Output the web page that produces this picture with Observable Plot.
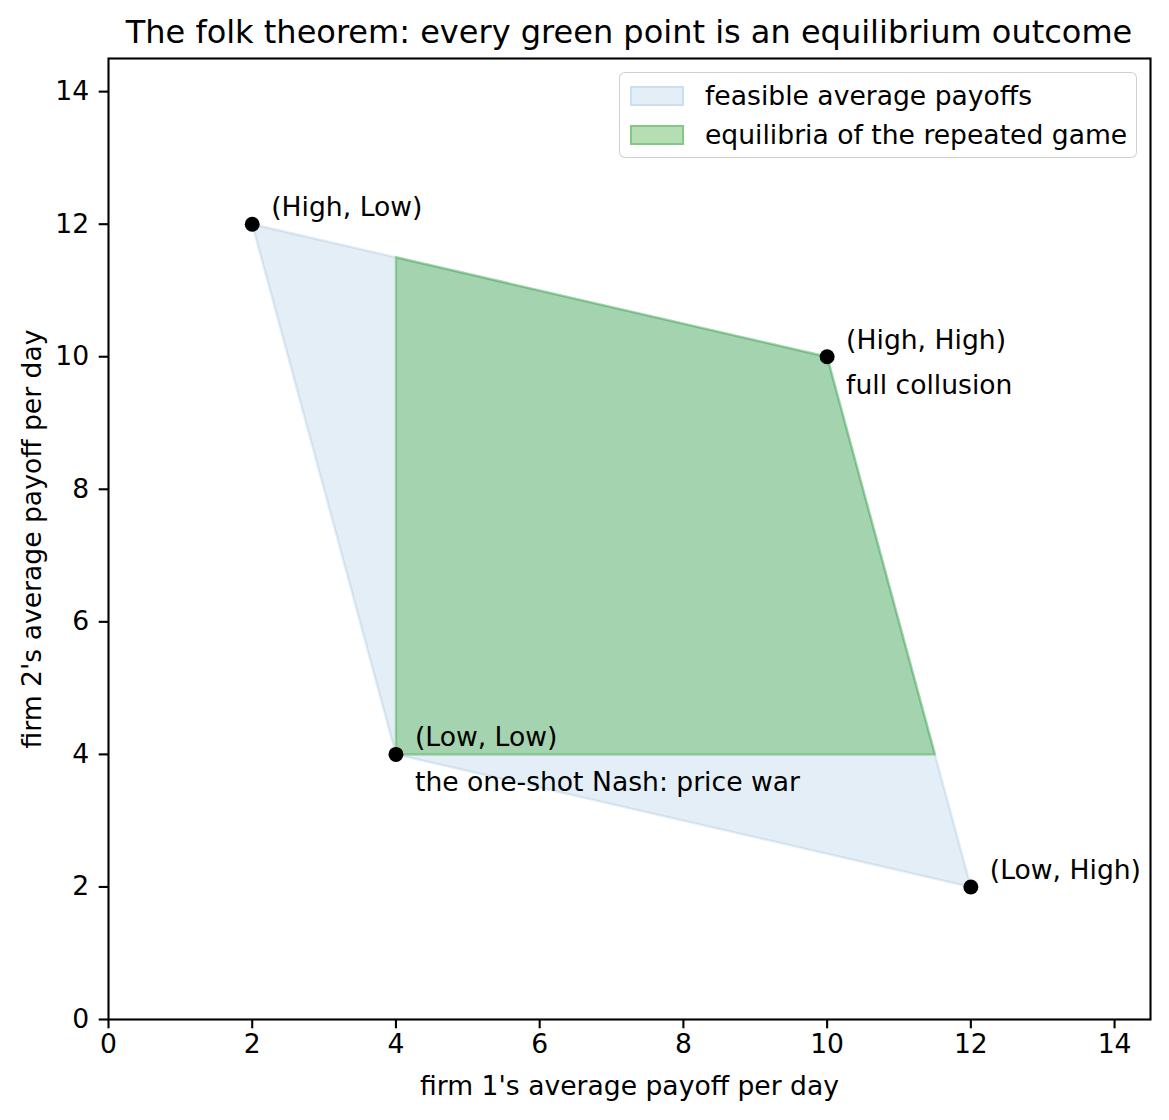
<!DOCTYPE html>
<html>
<head>
<meta charset="utf-8">
<script src="https://cdn.jsdelivr.net/npm/d3@7"></script>
<script src="https://cdn.jsdelivr.net/npm/@observablehq/plot@0.6"></script>
<style>
  html, body { margin: 0; padding: 0; background: #fff; }
  #wrap { position: relative; width: 1169px; height: 1120px; font-family: "DejaVu Sans", sans-serif; }
  #title { position: absolute; left: 108px; width: 1042px; top: 12px; text-align: center; font-size: 32px; color: #000; line-height: 40px; }
  #legend { position: absolute; left: 619px; top: 72px; width: 516px; height: 84px; border: 1.5px solid rgba(204,204,204,0.9); border-radius: 6px; background: rgba(255,255,255,0.8); box-sizing: content-box; }
  .row { position: absolute; left: 0; height: 30px; }
  .sw { position: absolute; left: 10px; width: 54px; height: 20px; box-sizing: border-box; }
  .lt { position: absolute; left: 85px; top: 0; font-size: 26.6px; white-space: nowrap; line-height: 30px; }
</style>
</head>
<body>
<div id="wrap">
  <div id="chart"></div>
  <div id="title"></div>
  <div id="legend"></div>
</div>
<script>
// ---- data ----
const profileNames = ["(High, High)", "(High, Low)", "(Low, High)", "(Low, Low)"];
const firm1Payoff = [10, 2, 12, 4];
const firm2Payoff = [10, 12, 2, 4];
const profileNotes = ["full collusion", "", "", "the one-shot Nash: price war"];

// feasible set: convex hull of the four outcomes (order around the hull)
const feasibleX = [2, 10, 12, 4];
const feasibleY = [12, 10, 2, 4];

// equilibria region (each firm gets at least its minmax of 4)
const equilibX = [4, 4, 10, 11.5];
const equilibY = [4, 11.5, 10, 4];

const ticks = [0, 2, 4, 6, 8, 10, 12, 14];
const legendLabels = ["feasible average payoffs", "equilibria of the repeated game"];
const titleText = "The folk theorem: every green point is an equilibrium outcome";
const xLabel = "firm 1's average payoff per day";
const yLabel = "firm 2's average payoff per day";

// ---- build tables ----
const profiles = profileNames.map((n, i) => ({name: n, x: firm1Payoff[i], y: firm2Payoff[i], note: profileNotes[i]}));
const feasible = feasibleX.map((x, i) => ({x, y: feasibleY[i]}));
const equilib = equilibX.map((x, i) => ({x, y: equilibY[i]}));

const blue = "#1f77b4", green = "#2ca02c";
const font = "DejaVu Sans, sans-serif";
const fs = 26.6;

const plot = Plot.plot({
  width: 1169,
  height: 1120,
  marginLeft: 108,
  marginRight: 19,
  marginTop: 58,
  marginBottom: 101,
  style: {fontFamily: font, fontSize: fs + "px", color: "#000", background: "#fff"},
  x: {domain: [0, 14.5]},
  y: {domain: [0, 14.5]},
  marks: [
    Plot.line(feasible, {x: "x", y: "y", curve: "linear-closed", fill: blue, fillOpacity: 0.12, stroke: blue, strokeOpacity: 0.12, strokeWidth: 2.5}),
    Plot.line(equilib, {x: "x", y: "y", curve: "linear-closed", fill: green, fillOpacity: 0.35, stroke: green, strokeOpacity: 0.35, strokeWidth: 2.5}),
    Plot.dot(profiles, {x: "x", y: "y", r: 7.5, fill: "#000", stroke: "none"}),
    Plot.text(profiles, {x: "x", y: "y", text: "name", textAnchor: "start", lineAnchor: "bottom", dx: 19, dy: -8, fontSize: fs, fill: "#000"}),
    Plot.text(profiles.filter(d => d.note), {x: "x", y: "y", text: "note", textAnchor: "start", lineAnchor: "bottom", dx: 19, dy: 37, fontSize: fs, fill: "#000"}),
    Plot.frame({stroke: "#000", strokeWidth: 2.1}),
    Plot.axisX(ticks, {tickSize: 9.3, tickPadding: 5, strokeWidth: 2.1, tickFormat: d => String(d), label: xLabel, labelAnchor: "center", labelOffset: 75, labelArrow: "none", fontSize: fs}),
    Plot.axisY(ticks, {tickSize: 9.3, tickPadding: 10, strokeWidth: 2.1, tickFormat: d => String(d), label: yLabel, labelAnchor: "center", labelOffset: 86, labelArrow: "none", fontSize: fs})
  ]
});
document.getElementById("chart").appendChild(plot);

document.getElementById("title").textContent = titleText;

const legend = document.getElementById("legend");
const swStyles = [
  {bg: "rgba(31,119,180,0.12)", border: "rgba(31,119,180,0.12)"},
  {bg: "rgba(44,160,44,0.35)", border: "rgba(44,160,44,0.35)"}
];
legendLabels.forEach((lab, i) => {
  const row = document.createElement("div");
  row.className = "row";
  row.style.top = (8 + i * 39) + "px";
  row.style.width = "100%";
  const sw = document.createElement("div");
  sw.className = "sw";
  sw.style.background = swStyles[i].bg;
  sw.style.border = "2px solid " + swStyles[i].border;
  sw.style.top = "5px";
  const t = document.createElement("div");
  t.className = "lt";
  t.textContent = lab;
  row.appendChild(sw);
  row.appendChild(t);
  legend.appendChild(row);
});
</script>
</body>
</html>
